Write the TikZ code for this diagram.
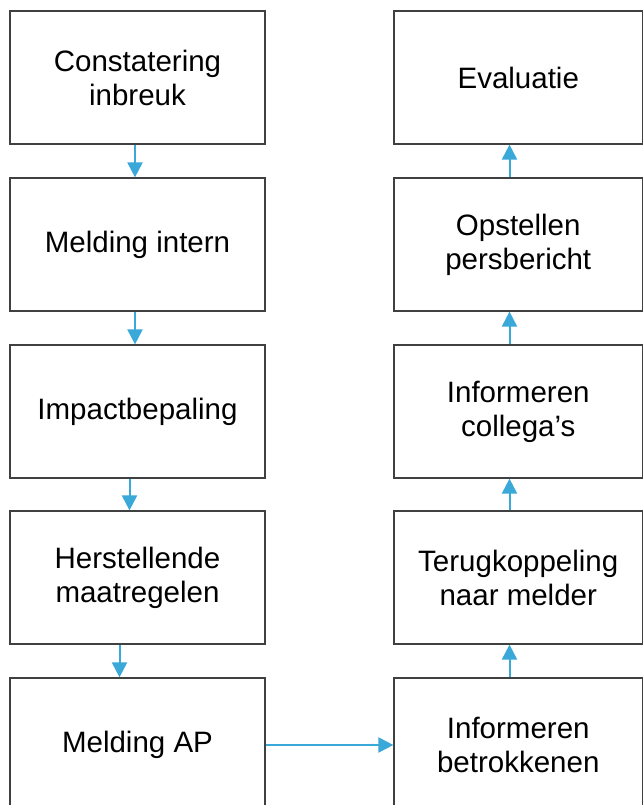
\documentclass[tikz,border=0pt]{standalone}
\usepackage{fontspec}
\setmainfont{Liberation Sans}
\usetikzlibrary{arrows.meta}
\definecolor{arrowblue}{HTML}{3AA8D8}
\definecolor{boxline}{HTML}{404040}
\begin{document}
\begin{tikzpicture}[x=1pt,y=-1pt,
  stepbox/.style={draw=boxline, line width=1.2pt, fill=white, minimum width=255pt, minimum height=133pt, align=center, inner sep=0pt, font=\fontsize{29.5}{34}\selectfont},
  rbox/.style={stepbox, minimum width=248.5pt},
  arr/.style={draw=arrowblue, line width=2pt, -{Triangle[width=15pt,length=15pt]}}]
\useasboundingbox (0,0) rectangle (643,805);
% left column
\node[stepbox] (c1) at (137.5,77.5) {Constatering\\inbreuk};
\node[stepbox] (c2) at (137.5,244.5) {Melding intern};
\node[stepbox] (c3) at (137.5,411.5) {Impactbepaling};
\node[stepbox] (c4) at (137.5,577.5) {Herstellende\\maatregelen};
\node[stepbox] (c5) at (137.5,744.5) {Melding AP};
% right column
\node[rbox] (r1) at (518.25,77.5) {Evaluatie};
\node[rbox] (r2) at (518.25,244.5) {Opstellen\\persbericht};
\node[rbox] (r3) at (518.25,411.5) {Informeren\\collega’s};
\node[rbox] (r4) at (518.25,577.5) {Terugkoppeling\\naar melder};
\node[rbox] (r5) at (518.25,744.5) {Informeren\\betrokkenen};
% arrows left
\draw[arr] (c1.south -| 135,0) -- (c2.north -| 135,0);
\draw[arr] (c2.south -| 135,0) -- (c3.north -| 135,0);
\draw[arr] (c3.south -| 129.5,0) -- (c4.north -| 129.5,0);
\draw[arr] (c4.south -| 119.5,0) -- (c5.north -| 119.5,0);
% horizontal
\draw[arr] (c5.east |- 0,745) -- (r5.west |- 0,745);
% arrows right
\draw[arr] (r5.north -| 509.5,0) -- (r4.south -| 509.5,0);
\draw[arr] (r4.north -| 509.5,0) -- (r3.south -| 509.5,0);
\draw[arr] (r3.north -| 509.5,0) -- (r2.south -| 509.5,0);
\draw[arr] (r2.north -| 509.5,0) -- (r1.south -| 509.5,0);
\end{tikzpicture}
\end{document}
